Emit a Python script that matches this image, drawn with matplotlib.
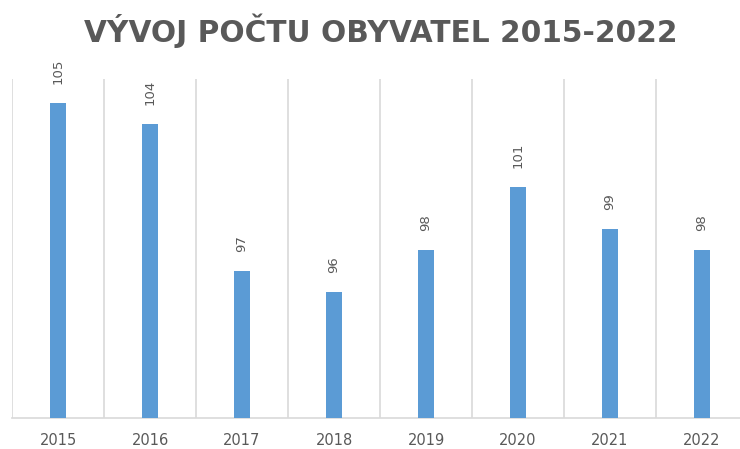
import matplotlib.pyplot as plt

years = ['2015', '2016', '2017', '2018', '2019', '2020', '2021', '2022']
population = [105, 104, 97, 96, 98, 101, 99, 98]

BAR = '#5B9BD5'
GRID = '#D9D9D9'
TEXT = '#595959'

fig = plt.figure(figsize=(7.4, 4.49), dpi=100)
ax = fig.add_axes([12/740, 1 - 418/449, 736/740, (418 - 79)/449])

x = range(len(years))
ax.bar(x, population, width=0.18, color=BAR, zorder=3)

for i, v in enumerate(population):
	ax.annotate(str(v), (i, v), xytext=(0, 14), textcoords='offset points',
		rotation=90, ha='center', va='bottom', fontsize=9.5, color=TEXT)

ax.set_xlim(-0.5, len(years) - 0.5)
ax.set_ylim(90, 106.15)
ax.set_xticks(list(x))
ax.set_xticklabels(years, fontsize=10.5, color=TEXT)
ax.set_xticks([i - 0.5 for i in range(len(years) + 1)], minor=True)
ax.tick_params(axis='x', which='both', length=0, pad=11)
ax.grid(axis='x', which='minor', color=GRID, linewidth=1.2, zorder=0)
ax.set_yticks([])
for side in ['top', 'right', 'left']:
	ax.spines[side].set_visible(False)
ax.spines['bottom'].set_color(GRID)
ax.spines['bottom'].set_linewidth(1.2)

fig.text(0.514, 0.932, 'VÝVOJ POČTU OBYVATEL 2015-2022', ha='center', va='center',
	fontsize=21.3, fontweight='bold', color=TEXT, family='DejaVu Sans')

fig.savefig('out.png', dpi=100)
